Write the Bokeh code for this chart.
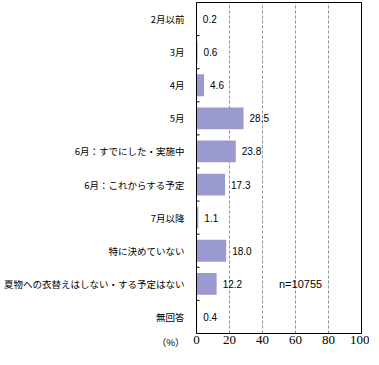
from bokeh.plotting import figure
from bokeh.models import Range1d, FixedTicker, Label, ColumnDataSource
from bokeh.core.properties import value
from bokeh.embed import file_html
from bokeh.resources import INLINE

categories = ["2月以前", "3月", "4月", "5月", "6月：すでにした・実施中", "6月：これからする予定",
              "7月以降", "特に決めていない", "夏物への衣替えはしない・する予定はない", "無回答"]
values = [0.2, 0.6, 4.6, 28.5, 23.8, 17.3, 1.1, 18.0, 12.2, 0.4]
value_labels = ["0.2", "0.6", "4.6", "28.5", "23.8", "17.3", "1.1", "18.0", "12.2", "0.4"]
x_ticks = [0, 20, 40, 60, 80, 100]
grid_ticks = [20, 40, 60, 80]
unit_label = "（%）"
n_note = "n=10755"

n = len(categories)
centers = [n - i - 0.5 for i in range(n)]
boundaries = [float(k) for k in range(1, n)]
x_min, x_max = 0, 100

px_x = 1.65      # pixels per percent
row_px = 33.1    # pixels per category row
left_pad, right_pad = 6, 8
bottom_px = 16   # room for tick labels inside frame

p = figure(frame_width=round(left_pad + (x_max - x_min) * px_x + right_pad),
           frame_height=round(n * row_px + 1 + bottom_px),
           output_backend="svg", toolbar_location=None,
           x_range=Range1d(x_min - left_pad / px_x, x_max + right_pad / px_x),
           y_range=Range1d(-bottom_px / row_px, n + 1 / row_px),
           min_border_left=184, min_border_right=0, min_border_top=1, min_border_bottom=0)
p.background_fill_color = "white"
p.border_fill_color = "white"
p.outline_line_color = None

# dashed grid lines
p.segment(x0=grid_ticks, y0=[0] * len(grid_ticks), x1=grid_ticks, y1=[n] * len(grid_ticks),
          line_color="#8a948a", line_dash="3 2", line_width=1)

src = ColumnDataSource(dict(y=centers, v=values, lab=value_labels))
p.hbar(y="y", right="v", left=0, height=0.66, source=src,
       fill_color="#9a9ad0", line_color=None)

p.text(x="v", y="y", text="lab", source=src, x_offset=6,
       text_font=value("Liberation Sans"), text_font_size="10px",
       text_baseline="middle", text_align="left", text_color="black")

# plot border
p.quad(left=[x_min], right=[x_max], bottom=[0], top=[n], fill_color=None,
       line_color="black", line_width=1)

# small inward ticks between categories
p.segment(x0=[x_min] * len(boundaries), y0=boundaries,
          x1=[x_min + 3 / px_x] * len(boundaries), y1=boundaries,
          line_color="black", line_width=1)

# y axis (category labels + unit label)
unit_y = -8 / row_px
p.yaxis.ticker = FixedTicker(ticks=centers + [unit_y])
overrides = {c: cat for c, cat in zip(centers, categories)}
overrides[unit_y] = unit_label
p.yaxis.major_label_overrides = overrides
p.yaxis.major_tick_line_color = None
p.yaxis.minor_tick_line_color = None
p.yaxis.axis_line_color = None
p.yaxis.major_label_standoff = 0
p.yaxis.major_label_text_font = "Noto Sans CJK JP"
p.yaxis.major_label_text_font_size = "9.5px"
p.yaxis.major_label_text_color = "black"

# x axis inside the frame at y = 0
p.xaxis.fixed_location = 0
p.xaxis.ticker = FixedTicker(ticks=x_ticks)
p.xaxis.major_tick_in = 0
p.xaxis.major_tick_out = 0
p.xaxis.minor_tick_line_color = None
p.xaxis.axis_line_color = None
p.xaxis.major_label_standoff = 2
p.xaxis.major_label_text_font = "Liberation Sans Narrow"
p.xaxis.major_label_text_font_size = "13px"
p.xaxis.major_label_text_color = "black"

p.xgrid.grid_line_color = None
p.ygrid.grid_line_color = None

p.add_layout(Label(x=50, y=centers[8], text=n_note, text_font="Liberation Sans",
                   text_font_size="11px", text_baseline="middle", text_align="left",
                   text_color="black"))

open("out.html", "w").write(file_html(p, INLINE))
